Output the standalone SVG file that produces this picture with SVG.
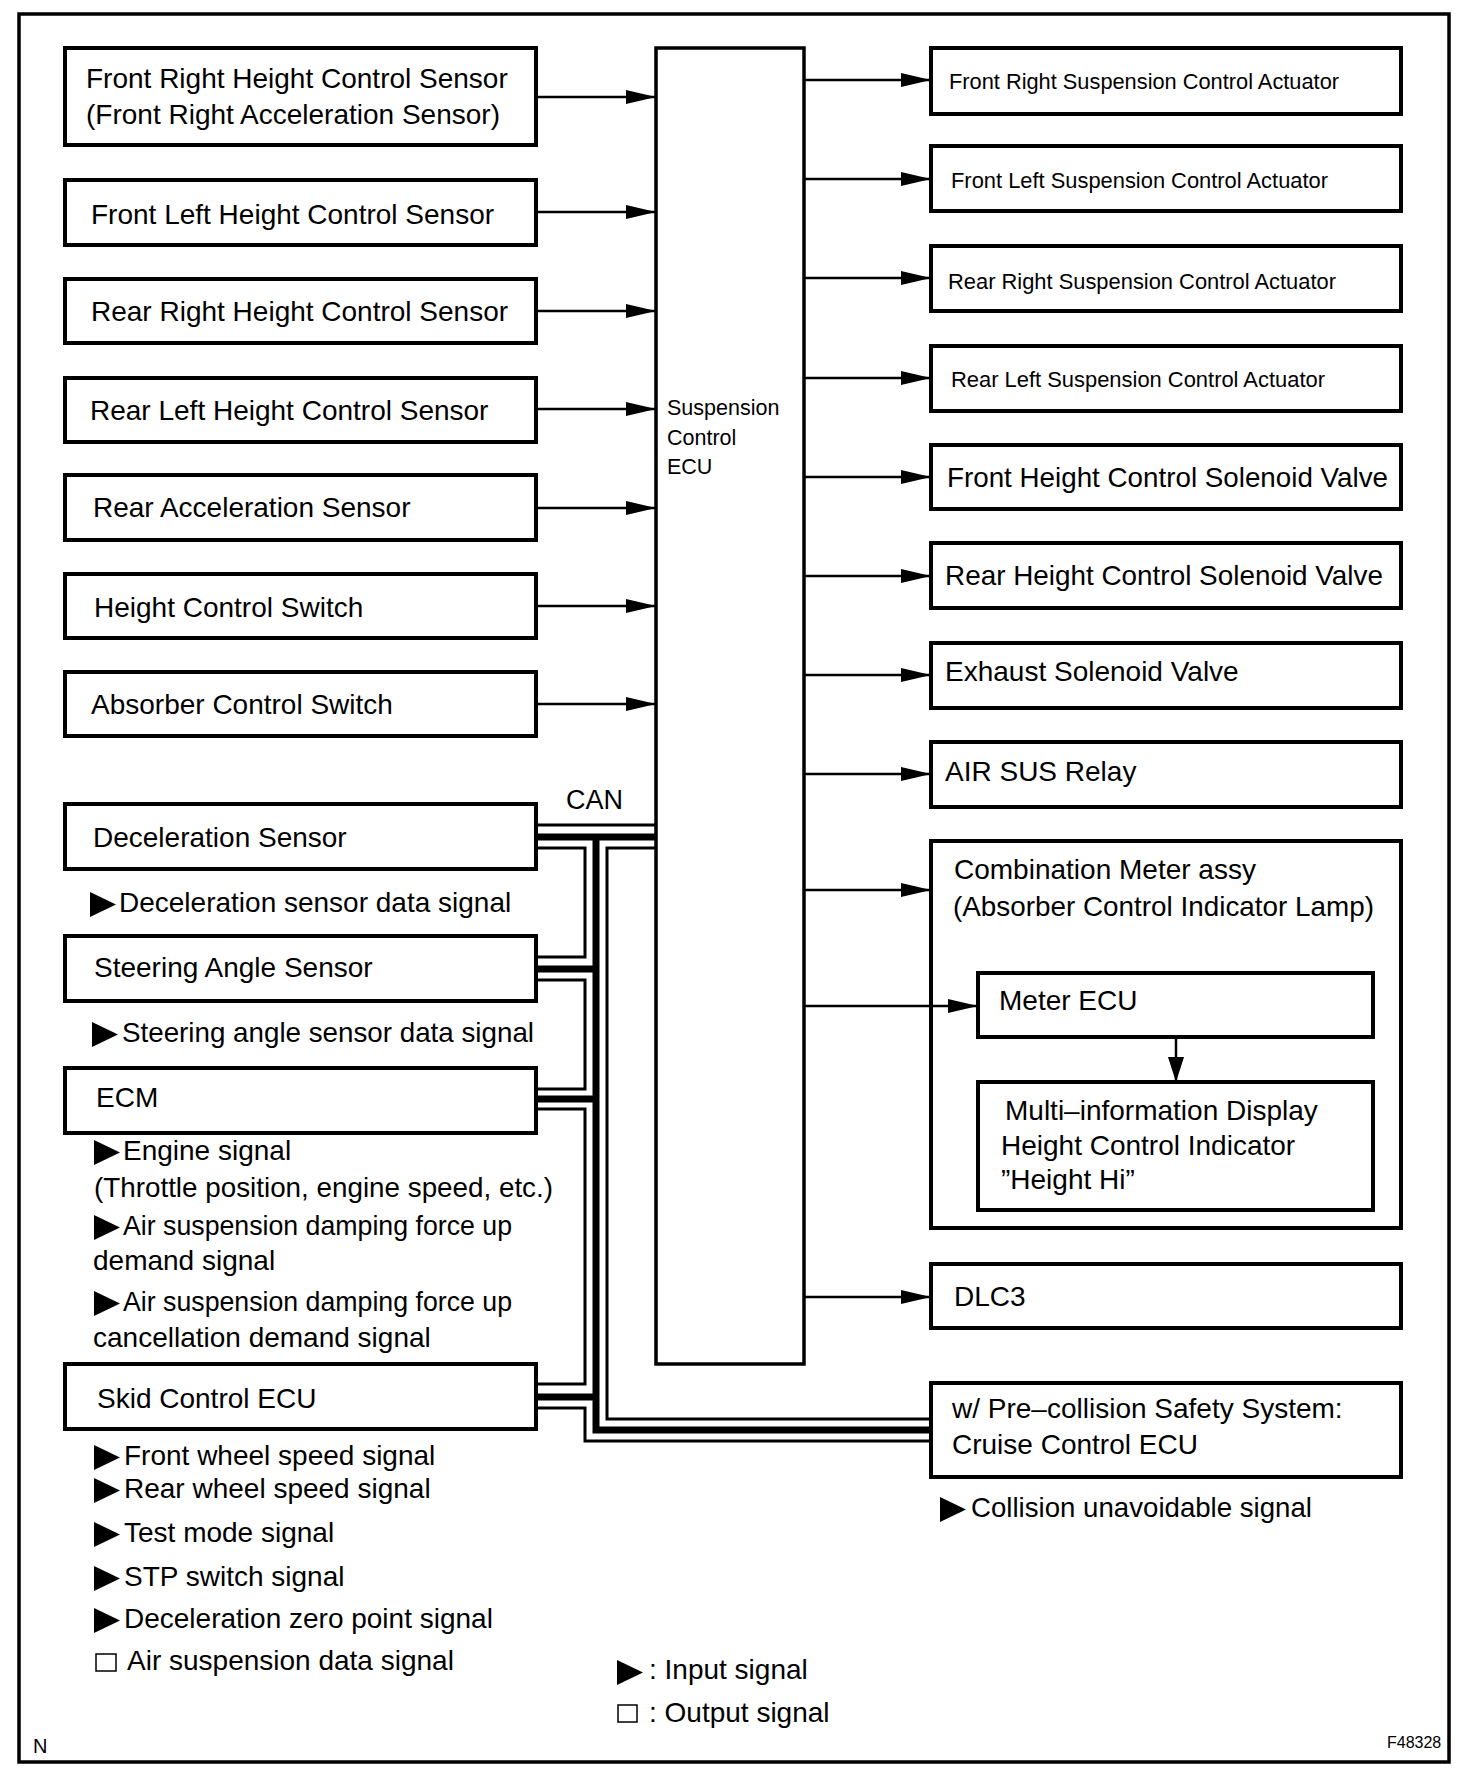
<svg xmlns="http://www.w3.org/2000/svg" width="1472" height="1778" viewBox="0 0 1472 1778">
<style>
.bx{fill:none;stroke:#000;stroke-width:4}
.t{font-family:"Liberation Sans",Arial,Helvetica,sans-serif;font-size:28px;fill:#000}
.ts{font-size:22px}
.tx{font-size:21.5px}
.ln{stroke:#000;stroke-width:2.5;fill:none}
.bt{stroke:#000;stroke-width:3;fill:none}
.bk{stroke:#000;stroke-width:7;fill:none}
.sq{fill:#fff;stroke:#000;stroke-width:1.5}
</style>
<defs>
<marker id="ah" markerUnits="userSpaceOnUse" markerWidth="30" markerHeight="14" refX="30" refY="7" orient="auto">
<path d="M0,0 L30,7 L0,14 Z" fill="#000"/>
</marker>
<marker id="ahd" markerUnits="userSpaceOnUse" markerWidth="25" markerHeight="16" refX="25" refY="8" orient="auto">
<path d="M0,0 L25,8 L0,16 Z" fill="#000"/>
</marker>
<path id="tri" d="M0,0 L26,12.5 L0,25 Z" fill="#000"/>
</defs>
<rect width="1472" height="1778" fill="#fff"/>
<rect x="19" y="14" width="1430" height="1748" fill="none" stroke="#000" stroke-width="3.5"/>

<g id="connectors">
<path class="ln" marker-end="url(#ah)" d="M536,97 H656"/>
<path class="ln" marker-end="url(#ah)" d="M536,212 H656"/>
<path class="ln" marker-end="url(#ah)" d="M536,311 H656"/>
<path class="ln" marker-end="url(#ah)" d="M536,409 H656"/>
<path class="ln" marker-end="url(#ah)" d="M536,508 H656"/>
<path class="ln" marker-end="url(#ah)" d="M536,606 H656"/>
<path class="ln" marker-end="url(#ah)" d="M536,704 H656"/>
<path class="ln" marker-end="url(#ah)" d="M804,80 H931"/>
<path class="ln" marker-end="url(#ah)" d="M804,179 H931"/>
<path class="ln" marker-end="url(#ah)" d="M804,278 H931"/>
<path class="ln" marker-end="url(#ah)" d="M804,378 H931"/>
<path class="ln" marker-end="url(#ah)" d="M804,477 H931"/>
<path class="ln" marker-end="url(#ah)" d="M804,576 H931"/>
<path class="ln" marker-end="url(#ah)" d="M804,675 H931"/>
<path class="ln" marker-end="url(#ah)" d="M804,774 H931"/>
<path class="ln" marker-end="url(#ah)" d="M804,890 H931"/>
<path class="ln" marker-end="url(#ah)" d="M804,1006 H978"/>
<path class="ln" marker-end="url(#ah)" d="M804,1297 H931"/>
<path class="ln" marker-end="url(#ahd)" d="M1176,1037 V1082"/>
<!-- CAN bus -->
<path class="bt" d="M536,825 H656"/>
<path class="bk" d="M536,837 H656"/>
<path class="bk" d="M596,837 V1430 H931"/>
<path class="bk" d="M536,969 H596"/>
<path class="bk" d="M536,1099 H596"/>
<path class="bk" d="M536,1397 H596"/>
<path class="bt" d="M536,848 H585 V957 H536"/>
<path class="bt" d="M536,980 H585 V1089 H536"/>
<path class="bt" d="M536,1109 H585 V1384 H536"/>
<path class="bt" d="M536,1408 H585 V1441 H931"/>
<path class="bt" d="M656,848 H607 V1419 H931"/>
</g>

<g id="ecu">
<rect x="656" y="48" width="148" height="1316" fill="none" stroke="#000" stroke-width="3.5"/>
<text class="t tx" x="667" y="415">Suspension</text>
<text class="t tx" x="667" y="445">Control</text>
<text class="t tx" x="667" y="474">ECU</text>
</g>

<g id="fr-height"><rect class="bx" x="65" y="48" width="471" height="97"/>
<text class="t" x="86" y="88">Front Right Height Control Sensor</text>
<text class="t" x="86" y="124">(Front Right Acceleration Sensor)</text></g>
<g id="fl-height"><rect class="bx" x="65" y="180" width="471" height="65"/>
<text class="t" x="91" y="224">Front Left Height Control Sensor</text></g>
<g id="rr-height"><rect class="bx" x="65" y="279" width="471" height="64"/>
<text class="t" x="91" y="321">Rear Right Height Control Sensor</text></g>
<g id="rl-height"><rect class="bx" x="65" y="378" width="471" height="64"/>
<text class="t" x="90" y="420">Rear Left Height Control Sensor</text></g>
<g id="rear-acc"><rect class="bx" x="65" y="475" width="471" height="65"/>
<text class="t" x="93" y="517">Rear Acceleration Sensor</text></g>
<g id="height-sw"><rect class="bx" x="65" y="574" width="471" height="64"/>
<text class="t" x="94" y="617">Height Control Switch</text></g>
<g id="absorber-sw"><rect class="bx" x="65" y="672" width="471" height="64"/>
<text class="t" x="91" y="714">Absorber Control Switch</text></g>

<text class="t" x="566" y="809" style="font-size:27px">CAN</text>

<g id="decel"><rect class="bx" x="65" y="804" width="471" height="65"/>
<text class="t" x="93" y="847">Deceleration Sensor</text></g>
<use href="#tri" x="90" y="892"/>
<text class="t" x="119" y="912">Deceleration sensor data signal</text>

<g id="steering"><rect class="bx" x="65" y="936" width="471" height="65"/>
<text class="t" x="94" y="977">Steering Angle Sensor</text></g>
<use href="#tri" x="92" y="1022"/>
<text class="t" x="122" y="1042" textLength="412" lengthAdjust="spacingAndGlyphs">Steering angle sensor data signal</text>

<g id="ecm"><rect class="bx" x="65" y="1068" width="471" height="65"/>
<text class="t" x="96" y="1107">ECM</text></g>
<use href="#tri" x="94" y="1140"/>
<text class="t" x="123" y="1160">Engine signal</text>
<text class="t" x="94" y="1197" textLength="459" lengthAdjust="spacingAndGlyphs">(Throttle position, engine speed, etc.)</text>
<use href="#tri" x="94" y="1215"/>
<text class="t" x="123" y="1235" textLength="389" lengthAdjust="spacingAndGlyphs">Air suspension damping force up</text>
<text class="t" x="93" y="1270">demand signal</text>
<use href="#tri" x="94" y="1291"/>
<text class="t" x="123" y="1311" textLength="389" lengthAdjust="spacingAndGlyphs">Air suspension damping force up</text>
<text class="t" x="93" y="1347">cancellation demand signal</text>

<g id="skid"><rect class="bx" x="65" y="1364" width="471" height="65"/>
<text class="t" x="97" y="1408">Skid Control ECU</text></g>
<use href="#tri" x="94" y="1445"/>
<text class="t" x="124" y="1465">Front wheel speed signal</text>
<use href="#tri" x="94" y="1478"/>
<text class="t" x="124" y="1498">Rear wheel speed signal</text>
<use href="#tri" x="94" y="1522"/>
<text class="t" x="124" y="1542">Test mode signal</text>
<use href="#tri" x="94" y="1566"/>
<text class="t" x="124" y="1586">STP switch signal</text>
<use href="#tri" x="94" y="1608"/>
<text class="t" x="124" y="1628">Deceleration zero point signal</text>
<rect class="sq" x="96" y="1654" width="20" height="17"/>
<text class="t" x="127" y="1670">Air suspension data signal</text>

<g id="fr-act"><rect class="bx" x="931" y="48" width="470" height="66"/>
<text class="t ts" x="949" y="89" textLength="390" lengthAdjust="spacingAndGlyphs">Front Right Suspension Control Actuator</text></g>
<g id="fl-act"><rect class="bx" x="931" y="146" width="470" height="65"/>
<text class="t ts" x="951" y="188" textLength="377" lengthAdjust="spacingAndGlyphs">Front Left Suspension Control Actuator</text></g>
<g id="rr-act"><rect class="bx" x="931" y="246" width="470" height="65"/>
<text class="t ts" x="948" y="289" textLength="388" lengthAdjust="spacingAndGlyphs">Rear Right Suspension Control Actuator</text></g>
<g id="rl-act"><rect class="bx" x="931" y="346" width="470" height="65"/>
<text class="t ts" x="951" y="387" textLength="374" lengthAdjust="spacingAndGlyphs">Rear Left Suspension Control Actuator</text></g>
<g id="front-sol"><rect class="bx" x="931" y="445" width="470" height="64"/>
<text class="t" x="947" y="487" textLength="441" lengthAdjust="spacingAndGlyphs">Front Height Control Solenoid Valve</text></g>
<g id="rear-sol"><rect class="bx" x="931" y="543" width="470" height="65"/>
<text class="t" x="945" y="585" textLength="438" lengthAdjust="spacingAndGlyphs">Rear Height Control Solenoid Valve</text></g>
<g id="exhaust"><rect class="bx" x="931" y="643" width="470" height="65"/>
<text class="t" x="945" y="681">Exhaust Solenoid Valve</text></g>
<g id="relay"><rect class="bx" x="931" y="742" width="470" height="65"/>
<text class="t" x="945" y="781">AIR SUS Relay</text></g>
<g id="combo"><rect class="bx" x="931" y="841" width="470" height="387"/>
<text class="t" x="954" y="879">Combination Meter assy</text>
<text class="t" x="953" y="916" textLength="421" lengthAdjust="spacingAndGlyphs">(Absorber Control Indicator Lamp)</text></g>
<g id="meter-ecu"><rect class="bx" x="978" y="973" width="395" height="64"/>
<text class="t" x="999" y="1010">Meter ECU</text></g>
<g id="multi"><rect class="bx" x="978" y="1082" width="395" height="128"/>
<text class="t" x="1005" y="1120">Multi–information Display</text>
<text class="t" x="1001" y="1155">Height Control Indicator</text>
<text class="t" x="1001" y="1189">”Height Hi”</text></g>
<g id="dlc3"><rect class="bx" x="931" y="1264" width="470" height="64"/>
<text class="t" x="954" y="1306">DLC3</text></g>
<g id="cruise"><rect class="bx" x="931" y="1383" width="470" height="94"/>
<text class="t" x="952" y="1418">w/ Pre–collision Safety System:</text>
<text class="t" x="952" y="1454">Cruise Control ECU</text></g>
<use href="#tri" x="940" y="1497"/>
<text class="t" x="971" y="1517" textLength="341" lengthAdjust="spacingAndGlyphs">Collision unavoidable signal</text>

<g id="legend">
<use href="#tri" x="617" y="1660"/>
<text class="t" x="649" y="1679">: Input signal</text>
<rect class="sq" x="618" y="1705" width="19" height="17"/>
<text class="t" x="649" y="1722">: Output signal</text>
</g>
<text class="t" x="33" y="1753" style="font-size:20px">N</text>
<text class="t" x="1387" y="1748" style="font-size:16px">F48328</text>
</svg>
